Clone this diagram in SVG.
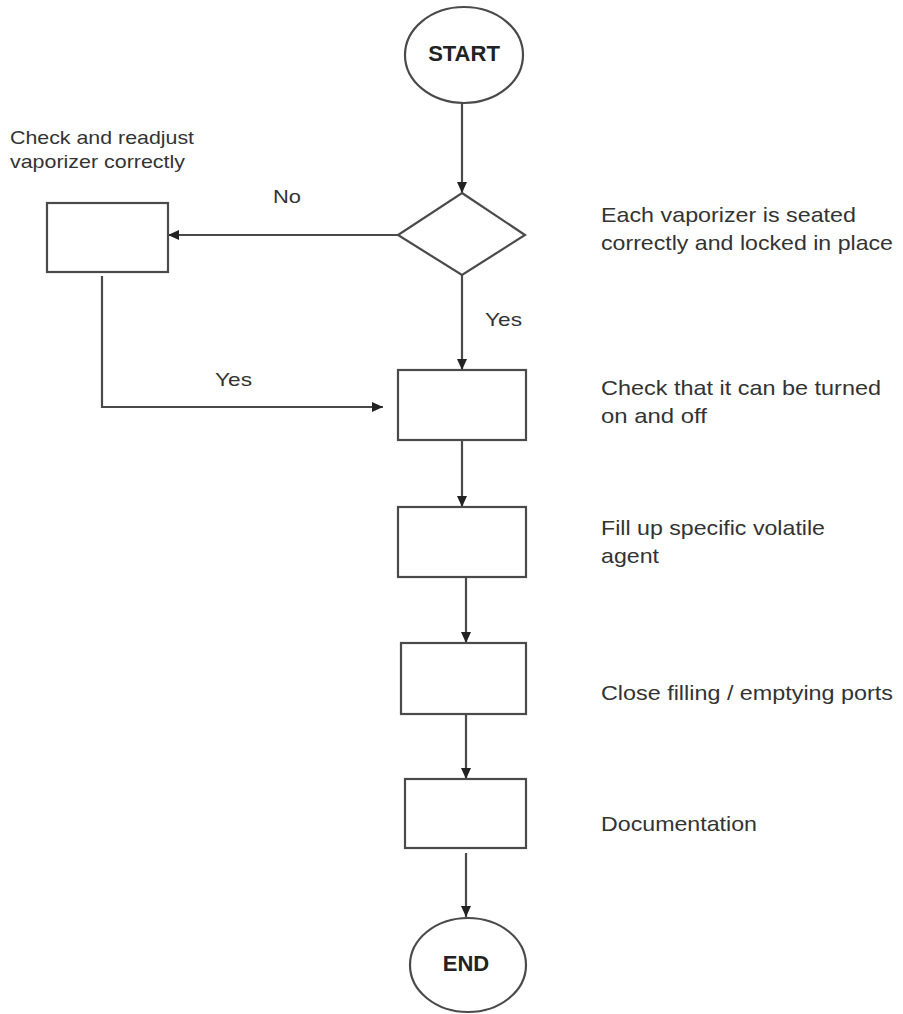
<svg xmlns="http://www.w3.org/2000/svg" width="903" height="1014" viewBox="0 0 903 1014">
<style>
.shape{fill:#fff;stroke:#4a4a4a;stroke-width:2.2}
.conn{fill:none;stroke:#4a4a4a;stroke-width:2.2}
.lbl{font-family:"Liberation Sans",Arial,sans-serif;font-size:21px;fill:#333}
.sm{font-size:19px}
.term{font-family:"Liberation Sans",Arial,sans-serif;font-size:22px;font-weight:bold;fill:#222;text-anchor:middle}
</style>
<defs>
<marker id="arr" markerUnits="userSpaceOnUse" markerWidth="11" markerHeight="10" refX="11" refY="5" orient="auto">
<path d="M0,0 L11,5 L0,10 z" fill="#222"/>
</marker>
</defs>
<rect width="903" height="1014" fill="#fff"/>
<g id="connectors">
<line class="conn" x1="462" y1="103" x2="462" y2="193" marker-end="url(#arr)"/>
<line class="conn" x1="398" y1="235" x2="168" y2="235" marker-end="url(#arr)"/>
<line class="conn" x1="462" y1="275" x2="462" y2="370" marker-end="url(#arr)"/>
<polyline class="conn" points="102,276 102,407 383,407" marker-end="url(#arr)"/>
<line class="conn" x1="462" y1="440" x2="462" y2="507" marker-end="url(#arr)"/>
<line class="conn" x1="466" y1="577" x2="466" y2="643" marker-end="url(#arr)"/>
<line class="conn" x1="466" y1="714" x2="466" y2="779" marker-end="url(#arr)"/>
<line class="conn" x1="466" y1="853" x2="466" y2="917" marker-end="url(#arr)"/>
<text class="lbl sm" x="273" y="203" textLength="28" lengthAdjust="spacingAndGlyphs">No</text>
<text class="lbl sm" x="485" y="326" textLength="37" lengthAdjust="spacingAndGlyphs">Yes</text>
<text class="lbl sm" x="215" y="386" textLength="37" lengthAdjust="spacingAndGlyphs">Yes</text>
</g>
<g id="start">
<ellipse class="shape" cx="464" cy="55" rx="59" ry="48"/>
<text class="term" x="464" y="61">START</text>
</g>
<g id="decision">
<polygon class="shape" points="462,193 525,235 462,275 398,235"/>
<text class="lbl" x="601" y="222" textLength="255" lengthAdjust="spacingAndGlyphs">Each vaporizer is seated</text>
<text class="lbl" x="601" y="250" textLength="292" lengthAdjust="spacingAndGlyphs">correctly and locked in place</text>
</g>
<g id="readjust">
<rect class="shape" x="47" y="203" width="121" height="69"/>
<text class="lbl sm" x="10" y="144" textLength="184" lengthAdjust="spacingAndGlyphs">Check and readjust</text>
<text class="lbl sm" x="10" y="168" textLength="175" lengthAdjust="spacingAndGlyphs">vaporizer correctly</text>
</g>
<g id="onoff">
<rect class="shape" x="398" y="370" width="128" height="70"/>
<text class="lbl" x="601" y="395" textLength="280" lengthAdjust="spacingAndGlyphs">Check that it can be turned</text>
<text class="lbl" x="601" y="423" textLength="106" lengthAdjust="spacingAndGlyphs">on and off</text>
</g>
<g id="fill">
<rect class="shape" x="398" y="507" width="128" height="70"/>
<text class="lbl" x="601" y="535" textLength="224" lengthAdjust="spacingAndGlyphs">Fill up specific volatile</text>
<text class="lbl" x="601" y="563" textLength="58" lengthAdjust="spacingAndGlyphs">agent</text>
</g>
<g id="close">
<rect class="shape" x="401" y="643" width="125" height="71"/>
<text class="lbl" x="601" y="700" textLength="292" lengthAdjust="spacingAndGlyphs">Close filling / emptying ports</text>
</g>
<g id="doc">
<rect class="shape" x="405" y="779" width="121" height="69"/>
<text class="lbl" x="601" y="831" textLength="156" lengthAdjust="spacingAndGlyphs">Documentation</text>
</g>
<g id="end">
<ellipse class="shape" cx="468" cy="965" rx="58" ry="47"/>
<text class="term" x="466" y="971">END</text>
</g>
</svg>
